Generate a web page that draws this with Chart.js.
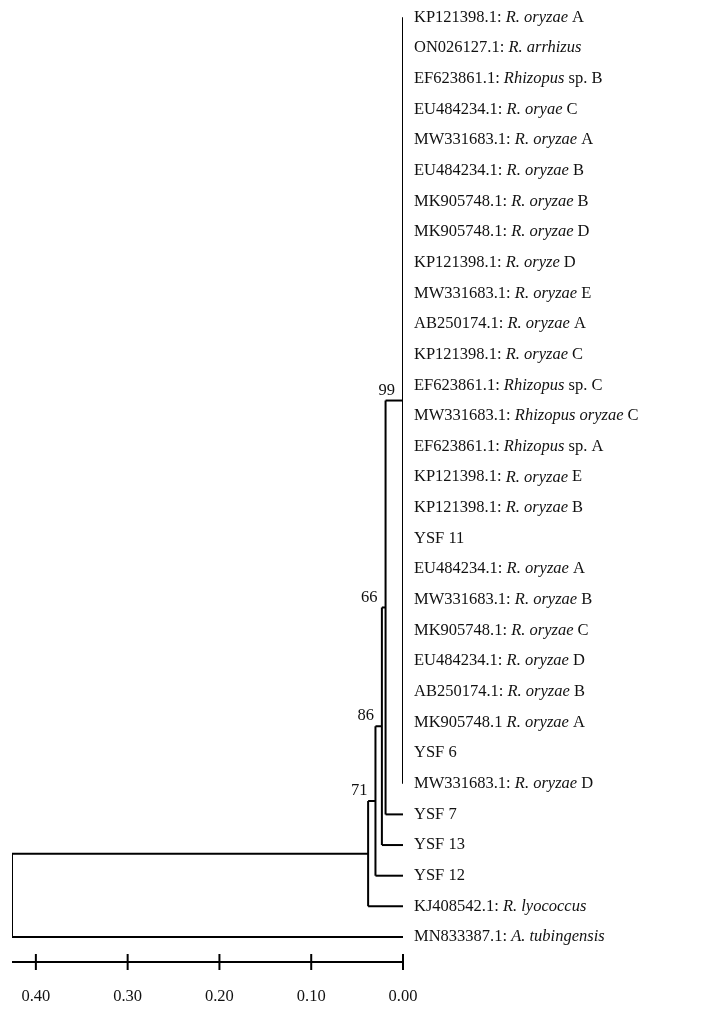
<!DOCTYPE html>
<html><head><meta charset="utf-8">
<script src="https://cdn.jsdelivr.net/npm/chart.js@4.4.0/dist/chart.umd.min.js"></script>
<style>html,body{margin:0;padding:0;background:#fff}#wrap{width:715px;height:1011px}</style>
</head><body><div id="wrap"><canvas id="c"></canvas></div>
<script>
// leaf labels, *...* marks italic
const leafNames = [
  'KP121398.1: *R. oryzae* A', 'ON026127.1: *R. arrhizus*', 'EF623861.1: *Rhizopus* sp. B',
  'EU484234.1: *R. oryae* C', 'MW331683.1: *R. oryzae* A', 'EU484234.1: *R. oryzae* B',
  'MK905748.1: *R. oryzae* B', 'MK905748.1: *R. oryzae* D', 'KP121398.1: *R. oryze* D',
  'MW331683.1: *R. oryzae* E', 'AB250174.1: *R. oryzae* A', 'KP121398.1: *R. oryzae* C',
  'EF623861.1: *Rhizopus* sp. C', 'MW331683.1: *Rhizopus oryzae* C', 'EF623861.1: *Rhizopus* sp. A',
  'KP121398.1: *R. oryzae* E', 'KP121398.1: *R. oryzae* B', 'YSF 11',
  'EU484234.1: *R. oryzae* A', 'MW331683.1: *R. oryzae* B', 'MK905748.1: *R. oryzae* C',
  'EU484234.1: *R. oryzae* D', 'AB250174.1: *R. oryzae* B', 'MK905748.1 *R. oryzae* A',
  'YSF 6', 'MW331683.1: *R. oryzae* D', 'YSF 7', 'YSF 13', 'YSF 12',
  'KJ408542.1: *R. lyococcus*', 'MN833387.1: *A. tubingensis*'
];
// internal nodes: name, height (distance), children (leaf index or node name), bootstrap
const nodeNames   = ['P', 'N99', 'N66', 'N86', 'N71', 'root'];
const nodeHeights = [0.000, 0.019, 0.023, 0.030, 0.038, 0.426];
const nodeKids    = [[...Array(26).keys()], ['P', 26], ['N99', 27], ['N66', 28], ['N86', 29], ['N71', 30]];
const nodeBoot    = ['99', '66', '86', '71', '', ''];
const xTicks = [0.4, 0.3, 0.2, 0.1, 0.0];

const nodeY = {}, nodeParent = {};
function yOf(k){ return typeof k === 'number' ? k : nodeY[k]; }
function xOf(k){ return typeof k === 'number' ? 0 : nodeHeights[nodeNames.indexOf(k)]; }
const segs = [];
nodeNames.forEach((n, i) => {
  const ys = nodeKids[i].map(yOf);
  const lo = Math.min(...ys), hi = Math.max(...ys);
  nodeY[n] = (lo + hi) / 2;
  const h = nodeHeights[i];
  segs.push([{x: h, y: lo}, {x: h, y: hi}]);
  nodeKids[i].forEach(k => {
    if (typeof k !== 'number') nodeParent[k] = h;
    if (xOf(k) !== h) segs.push([{x: h, y: yOf(k)}, {x: xOf(k), y: yOf(k)}]);
  });
});

const datasets = segs.map(s => ({data: s, showLine: true, borderColor: '#000', borderWidth: 2, pointRadius: 0, fill: false}));
const FONT = '16.5px "Liberation Serif", serif';

const labelPlugin = {
  id: 'labels',
  afterDatasetsDraw(chart) {
    const {ctx, scales: {x, y}} = chart;
    ctx.save();
    ctx.fillStyle = '#111';
    ctx.textBaseline = 'middle';
    leafNames.forEach((name, i) => {
      let px = x.getPixelForValue(0) + 11;
      const py = y.getPixelForValue(i);
      name.split('*').forEach((part, j) => {
        ctx.font = (j % 2 ? 'italic ' : '') + FONT;
        ctx.fillText(part, px, py);
        px += ctx.measureText(part).width;
      });
    });
    ctx.font = FONT;
    ctx.textAlign = 'right';
    ctx.textBaseline = 'bottom';
    nodeNames.forEach((n, i) => {
      if (!nodeBoot[i]) return;
      ctx.fillText(nodeBoot[i], x.getPixelForValue(nodeHeights[i]) - 8, y.getPixelForValue(nodeY[n]) - 2);
    });
    // scale bar
    ctx.strokeStyle = '#000'; ctx.lineWidth = 2;
    const by = chart.chartArea.bottom;
    ctx.beginPath(); ctx.moveTo(chart.chartArea.left, by); ctx.lineTo(chart.chartArea.right, by); ctx.stroke();
    ctx.textAlign = 'center'; ctx.textBaseline = 'middle';
    xTicks.forEach(t => {
      const tx = x.getPixelForValue(t);
      ctx.beginPath(); ctx.moveTo(tx, by - 8); ctx.lineTo(tx, by + 8); ctx.stroke();
      ctx.fillText(t.toFixed(2), tx, by + 35);
    });
    ctx.restore();
  }
};

new Chart(document.getElementById('c'), {
  type: 'scatter',
  data: {datasets},
  plugins: [labelPlugin],
  options: {
    responsive: true, maintainAspectRatio: false, animation: false,
    layout: {padding: {left: 12, right: 312, top: 2, bottom: 49}},
    plugins: {legend: {display: false}, tooltip: {enabled: false}},
    scales: {
      x: {type: 'linear', reverse: true, min: 0, max: 0.426, display: false},
      y: {type: 'linear', reverse: true, min: -0.5, max: 30.815, display: false}
    }
  }
});
</script></body></html>
